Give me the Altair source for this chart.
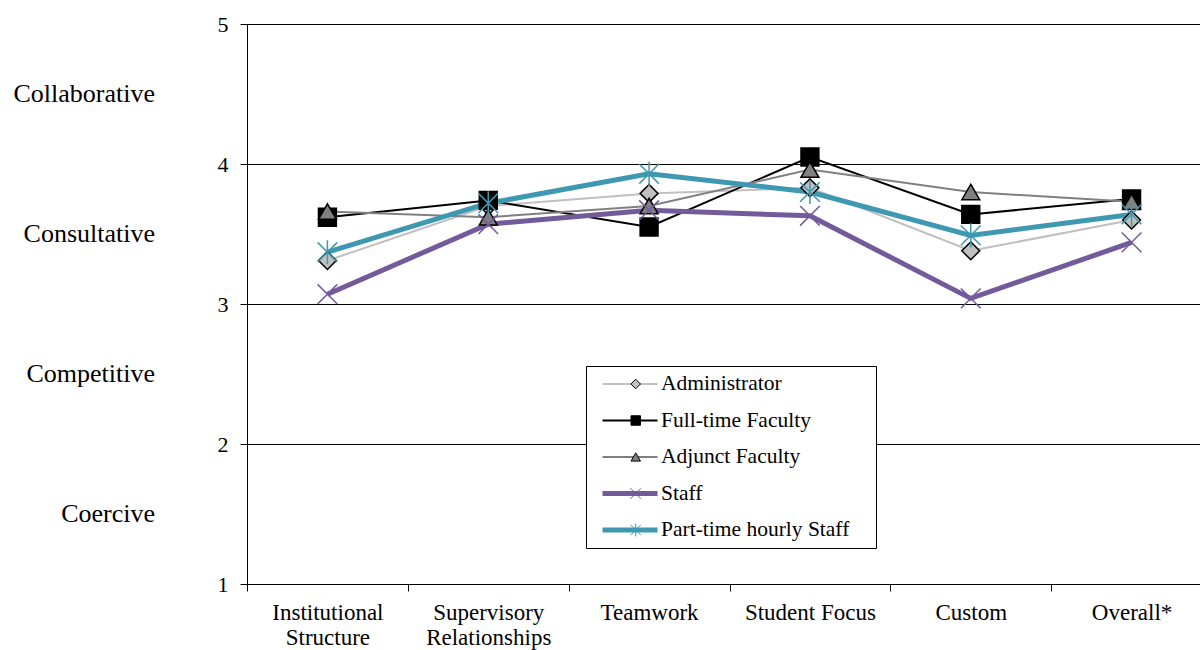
import altair as alt
import pandas as pd

FONT = "Liberation Serif, Times New Roman, Times, serif"

categories = ["Institutional Structure", "Supervisory Relationships", "Teamwork",
              "Student Focus", "Custom", "Overall*"]
series = ["Administrator", "Full-time Faculty", "Adjunct Faculty", "Staff",
          "Part-time hourly Staff"]

administrator = [3.31, 3.70, 3.79, 3.83, 3.38, 3.60]
full_time = [3.62, 3.74, 3.55, 4.05, 3.64, 3.75]
adjunct = [3.66, 3.62, 3.70, 3.96, 3.80, 3.73]
staff = [3.07, 3.57, 3.67, 3.63, 3.04, 3.44]
part_time = [3.37, 3.72, 3.93, 3.80, 3.49, 3.64]

level_names = ["Collaborative", "Consultative", "Competitive", "Coercive"]
level_pos = [4.5, 3.5, 2.5, 1.5]
y_ticks = [1, 2, 3, 4, 5]

line_colors = ["#c0c0c0", "#000000", "#808080", "#725a9b", "#3e98b1"]
line_widths = [2, 2, 2, 5, 5]
marker_fill = ["#c0c0c0", "#000000", "#808080", "transparent", "transparent"]
marker_stroke = ["#000000", "#000000", "#000000", "#725a9b", "#3e98b1"]
marker_shape = ["diamond", "square", "triangle-up",
                "M-1.1,-1.1L1.1,1.1M-1.1,1.1L1.1,-1.1",
                "M-1.1,-1.1L1.1,1.1M-1.1,1.1L1.1,-1.1M0,-1.35L0,1.35"]

marker_keys = [s + " marker" for s in series]

rows = []
for s, k, vals in zip(series, marker_keys,
                      [administrator, full_time, adjunct, staff, part_time]):
    for c, v in zip(categories, vals):
        rows.append({"category": c, "series": s, "group": k, "value": v})
df = pd.DataFrame(rows)
levels = pd.DataFrame({"label": level_names, "value": level_pos})

label_expr = ("datum.label == 'Institutional Structure' ? ['Institutional', 'Structure'] : "
              "datum.label == 'Supervisory Relationships' ? ['Supervisory', 'Relationships'] : datum.label")

X = alt.X("category:N", sort=categories, title=None,
          scale=alt.Scale(type="band", domain=categories, range=[0, 965],
                          paddingInner=0, paddingOuter=0),
          axis=alt.Axis(labelExpr=label_expr, labelAngle=0, labelFont=FONT,
                        labelFontSize=23, labelLineHeight=25, labelColor="black",
                        labelPadding=10, tickSize=7, tickBand="extent",
                        tickColor="black", domainColor="black", grid=False,
                        labelLimit=300))
Y = alt.Y("value:Q", title=None,
          scale=alt.Scale(domain=[1, 5], nice=False, zero=False),
          axis=alt.Axis(values=y_ticks, format="d", labelFont=FONT, labelFontSize=22,
                        labelColor="black", labelPadding=12, tickSize=7,
                        tickColor="black", domainColor="black", grid=True,
                        gridColor="#000000", gridWidth=1))

legend_line = alt.Legend(orient="none", legendX=339, legendY=342, title="\u00a0",
                         titleOrient="right", titleFontSize=21.5, titlePadding=20,
                         symbolType="stroke", symbolSize=3025, labelFont=FONT,
                         labelFontSize=21.5, labelColor="black", labelLimit=400,
                         rowPadding=14.5, padding=7, clipHeight=22,
                         symbolOffset=7, labelOffset=1,
                         strokeColor="black", fillColor="white", zindex=1)
legend_pt = alt.Legend(orient="none", legendX=371, legendY=342, title=None,
                       symbolSize=90, symbolStrokeWidth=1, labelFont=FONT,
                       labelFontSize=21.5, labelExpr="''",
                       rowPadding=14.5, padding=7, clipHeight=22, zindex=2)

lines = alt.Chart(df).mark_line().encode(
    x=X, y=Y,
    color=alt.Color("series:N", scale=alt.Scale(domain=series, range=line_colors),
                    legend=legend_line),
    strokeWidth=alt.StrokeWidth("series:N",
                                scale=alt.Scale(type="ordinal", domain=series,
                                                range=line_widths),
                                legend=legend_line),
)

points = alt.Chart(df).mark_point(opacity=1, strokeWidth=1.5, size=320).encode(
    x=X, y=Y,
    shape=alt.Shape("group:N", scale=alt.Scale(domain=marker_keys, range=marker_shape),
                    legend=legend_pt),
    fill=alt.Fill("group:N", scale=alt.Scale(domain=marker_keys, range=marker_fill),
                  legend=legend_pt),
    stroke=alt.Stroke("group:N", scale=alt.Scale(domain=marker_keys, range=marker_stroke),
                      legend=legend_pt),
)

texts = alt.Chart(levels).mark_text(align="right", baseline="middle", font=FONT,
                                     fontSize=26, color="black").encode(
    y=Y, x=alt.value(-92), text="label:N"
)

chart = alt.layer(lines, points, texts).properties(
    width=953, height=560,
    autosize=alt.AutoSizeParams(type="none"),
    padding={"left": 247, "top": 24, "right": 0, "bottom": 66},
    background="white",
).configure_view(stroke=None)

chart.save("out.html", embed_options={"renderer": "svg", "actions": False})
